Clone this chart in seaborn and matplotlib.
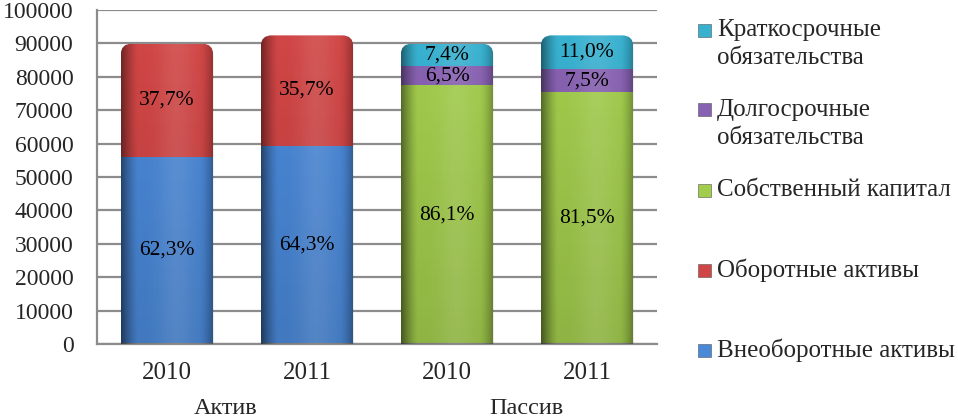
import numpy as np
import pandas as pd
import matplotlib
matplotlib.use('Agg')
import matplotlib.pyplot as plt
import seaborn as sns
from matplotlib.patches import FancyBboxPatch, Rectangle
import matplotlib.transforms as mtransforms

# data (thousand-level values)
bars = ['Актив 2010', 'Актив 2011', 'Пассив 2010', 'Пассив 2011']
years = ['2010', '2011', '2010', '2011']
groups = ['Актив', 'Пассив']

vneob = [56000, 59400, 0, 0]
oborot = [33900, 33000, 0, 0]
sobstv = [0, 0, 77400, 75300]
dolgo = [0, 0, 5840, 6930]
kratko = [0, 0, 6650, 10170]

vneob_pct = ['62,3%', '64,3%', '', '']
oborot_pct = ['37,7%', '35,7%', '', '']
sobstv_pct = ['', '', '86,1%', '81,5%']
dolgo_pct = ['', '', '6,5%', '7,5%']
kratko_pct = ['', '', '7,4%', '11,0%']

series = [vneob, oborot, sobstv, dolgo, kratko]
pcts = [vneob_pct, oborot_pct, sobstv_pct, dolgo_pct, kratko_pct]
names = ['Внеоборотные активы', 'Оборотные активы', 'Собственный капитал',
         'Долгосрочные\nобязательства', 'Краткосрочные\nобязательства']
colors = ['#4a88d8', '#d04545', '#a2cc4c', '#8862b2', '#38b0cf']

sns.set_style('white')
plt.rcParams['font.family'] = ['Liberation Serif', 'DejaVu Serif']

W, H = 958, 418
fig = plt.figure(figsize=(W / 100, H / 100), dpi=100)
ax = fig.add_axes([97 / W, (H - 344) / H, 560 / W, 334 / H])
ax.set_xlim(-0.5, 3.5)
ax.set_ylim(0, 100000)

data = np.array(series, dtype=float)
cum = np.cumsum(data, axis=0)
tops = cum[-1]

# px per data unit
px_x = ax.transData.transform((1, 0))[0] - ax.transData.transform((0, 0))[0]
px_y = ax.transData.transform((0, 1))[1] - ax.transData.transform((0, 0))[1]
bw = 0.66
r_px = 11
aspect = px_x / px_y

boxes = []
for i in range(4):
    b = FancyBboxPatch((i - bw / 2, -20000), bw, tops[i] + 20000,
                       boxstyle='round,pad=0,rounding_size=%f' % (r_px / px_x),
                       mutation_aspect=aspect, transform=ax.transData)
    boxes.append(b)

# stacked bars: draw cumulative heights from the top layer down
for k in range(len(series) - 1, -1, -1):
    h = np.where(data[k] > 0, cum[k], 0)
    df = pd.DataFrame({'bar': bars, 'value': h})
    n0 = len(ax.patches)
    sns.barplot(data=df, x='bar', y='value', order=bars, color=colors[k],
                saturation=1, width=bw, ax=ax, errorbar=None, linewidth=0)
    for p in ax.patches[n0:]:
        idx = int(round(p.get_x() + p.get_width() / 2))
        p.set_clip_path(boxes[idx])

# shading overlay for the cylinder-like look
nx, ny = 200, 100
xx = np.linspace(0, 1, nx)
yy = np.linspace(0, 1, ny)
shade = np.clip(0.55 * (1 - xx / 0.18), 0, None) ** 1.3 + np.clip((xx - 0.85) / 0.15, 0, None) ** 1.5 * 0.3
light = np.exp(-((xx - 0.6) / 0.2) ** 2) * 0.1
for i in range(4):
    vert = 0.12 * (1 - yy)[:, None]
    a = np.clip(shade[None, :] + vert, 0, 0.8)
    img = np.zeros((ny, nx, 4))
    img[..., 3] = a
    im = ax.imshow(img, extent=[i - bw / 2, i + bw / 2, 0, tops[i]], origin='lower',
                   aspect='auto', zorder=3, interpolation='bilinear')
    im.set_clip_path(boxes[i])
    limg = np.ones((ny, nx, 4))
    limg[..., 3] = np.tile(light, (ny, 1))
    im2 = ax.imshow(limg, extent=[i - bw / 2, i + bw / 2, 0, tops[i]], origin='lower',
                    aspect='auto', zorder=3, interpolation='bilinear')
    im2.set_clip_path(boxes[i])

# percentage labels
for k in range(len(series)):
    for i in range(4):
        if pcts[k][i]:
            ax.text(i, cum[k][i] - data[k][i] / 2, pcts[k][i], ha='center', va='center',
                    fontsize=15.5, color='black', zorder=5)

ax.set_xlim(-0.5, 3.5)
ax.set_ylim(0, 100000)
ax.set_yticks(np.arange(0, 100001, 10000))
ax.set_yticklabels([str(v) for v in range(0, 100001, 10000)], fontsize=17)
ax.set_xticks(range(4))
ax.set_xticklabels(years, fontsize=18)
ax.set_xticks(np.arange(-0.5, 4, 1), minor=True)
ax.tick_params(axis='x', which='major', length=0, pad=13)
ax.tick_params(axis='x', which='minor', length=6, width=1.5, color='#8c8c8c', direction='out')
ax.tick_params(axis='y', length=6, width=1.5, color='#8c8c8c', direction='out', pad=11)
ax.set_xlabel('')
ax.set_ylabel('')
ax.grid(axis='y', color='#8c8c8c', linewidth=1.6)
ax.set_axisbelow(True)
for s in ['top', 'right']:
    ax.spines[s].set_visible(False)
for s in ['left', 'bottom']:
    ax.spines[s].set_color('#8c8c8c')
    ax.spines[s].set_linewidth(1.6)

# group labels under the years
trans = mtransforms.blended_transform_factory(ax.transData, ax.transAxes)
for g, gx in zip(groups, [0.42, 2.57]):
    ax.text(gx, -0.192, g, transform=trans, ha='center', va='center', fontsize=17.5)

# legend, evenly spaced like the original
leg_order = list(range(len(series) - 1, -1, -1))
for j, k in enumerate(leg_order):
    yc = 30 + 80 * j
    fig.patches.append(Rectangle((698 / W, 1 - (yc + 6.5) / H), 13 / W, 13 / H,
                                 transform=fig.transFigure, facecolor=colors[k],
                                 edgecolor='#555555', linewidth=0.4))
    for li, line in enumerate(names[k].split('\n')):
        fig.text(717 / W, 1 - (yc + 28 * li) / H, line, ha='left', va='center',
                 fontsize=18)

fig.savefig('out.png', dpi=100)
